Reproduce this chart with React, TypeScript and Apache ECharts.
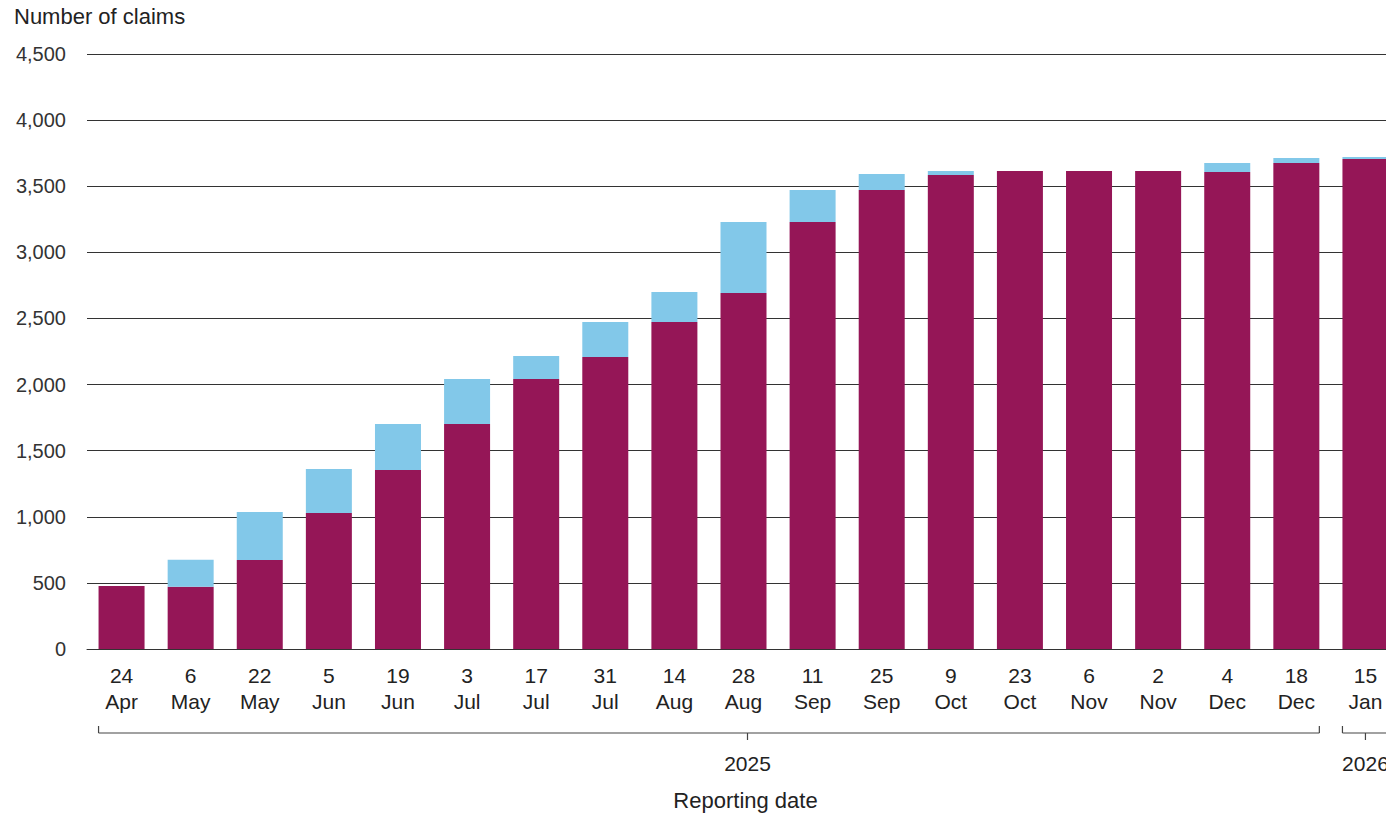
import React, { useEffect, useRef } from "react";
import * as echarts from "echarts";

const days = ["24", "6", "22", "5", "19", "3", "17", "31", "14", "28", "11", "25", "9", "23", "6", "2", "4", "18", "15"];
const months = ["Apr", "May", "May", "Jun", "Jun", "Jul", "Jul", "Jul", "Aug", "Aug", "Sep", "Sep", "Oct", "Oct", "Nov", "Nov", "Dec", "Dec", "Jan"];
const settled = [476, 470, 673, 1029, 1354, 1702, 2042, 2209, 2473, 2692, 3230, 3472, 3585, 3615, 3615, 3615, 3608, 3676, 3706];
const added = [0, 205, 363, 332, 348, 340, 174, 264, 227, 538, 242, 121, 30, 0, 0, 0, 68, 38, 15];
const yTicks = [0, 500, 1000, 1500, 2000, 2500, 3000, 3500, 4000, 4500];
const years = [
  { label: "2025", from: 0, to: 17, tickAt: 9 },
  { label: "2026", from: 18, to: 18, tickAt: 18 },
];

const categories = days.map((d, i) => d + "\n" + months[i]);
const FONT = "'Liberation Sans', Arial, sans-serif";
const PURPLE = "#951657";
const BLUE = "#82C8E9";
const TEXT = "#222222";

export default function App() {
  const ref = useRef<HTMLDivElement>(null);
  useEffect(() => {
    if (!ref.current) return;
    const chart = echarts.init(ref.current, undefined, { renderer: "svg" });
    chart.setOption({
      animation: false,
      grid: { left: 87, right: 0, top: 54, bottom: 164, containLabel: false },
      xAxis: {
        type: "category",
        data: categories,
        axisTick: { show: false },
        axisLine: { show: true, lineStyle: { color: "#333", width: 1 } },
        axisLabel: {
          color: TEXT,
          fontSize: 21,
          lineHeight: 26,
          margin: 13,
          fontFamily: FONT,
          interval: 0,
        },
      },
      yAxis: {
        type: "value",
        min: yTicks[0],
        max: yTicks[yTicks.length - 1],
        interval: 500,
        axisLine: { show: false },
        axisTick: { show: false },
        splitLine: { lineStyle: { color: "#333", width: 1 } },
        axisLabel: {
          color: "#333",
          fontSize: 20,
          margin: 21,
          fontFamily: FONT,
          formatter: (v: number) => v.toLocaleString("en-US"),
        },
      },
      series: [
        {
          type: "bar",
          stack: "claims",
          data: settled,
          barWidth: 46,
          itemStyle: { color: PURPLE },
        },
        {
          type: "bar",
          stack: "claims",
          data: added,
          barWidth: 46,
          itemStyle: { color: BLUE },
        },
      ],
    });

    const cx = (i: number) => chart.convertToPixel({ xAxisIndex: 0 }, categories[i]) as number;
    const half = 23;
    const lineY = 733;
    const style = { stroke: "#444", lineWidth: 1.2 };
    const graphics: any[] = [
      {
        type: "text",
        x: 14,
        y: 16,
        style: { text: "Number of claims", fontSize: 22, fill: TEXT, fontFamily: FONT, verticalAlign: "middle" },
      },
    ];
    years.forEach((y) => {
      const x0 = cx(y.from) - half;
      const x1 = y.to === categories.length - 1 ? 1420 : cx(y.to) + half;
      const tx = cx(y.tickAt) + (y.label === "2025" ? 4 : 0);
      graphics.push(
        { type: "line", shape: { x1: x0, y1: lineY, x2: x1, y2: lineY }, style },
        { type: "line", shape: { x1: x0, y1: lineY - 7, x2: x0, y2: lineY }, style },
        { type: "line", shape: { x1: tx, y1: lineY, x2: tx, y2: lineY + 7 }, style },
        {
          type: "text",
          x: tx,
          y: 763,
          style: { text: y.label, fontSize: 21, fill: TEXT, fontFamily: FONT, align: "center", verticalAlign: "middle" },
        }
      );
      if (y.to !== categories.length - 1) {
        graphics.push({ type: "line", shape: { x1: x1, y1: lineY - 7, x2: x1, y2: lineY }, style });
      }
    });
    graphics.push({
      type: "text",
      x: cx(9) + 2,
      y: 800,
      style: { text: "Reporting date", fontSize: 22, fill: TEXT, fontFamily: FONT, align: "center", verticalAlign: "middle" },
    });
    chart.setOption({ graphic: graphics });
    return () => chart.dispose();
  }, []);

  return (
    <div style={{ position: "absolute", left: 0, top: 0, width: 1386, height: 813, overflow: "hidden", background: "#fff" }}>
      <div ref={ref} style={{ width: 1400, height: 813 }} />
    </div>
  );
}
